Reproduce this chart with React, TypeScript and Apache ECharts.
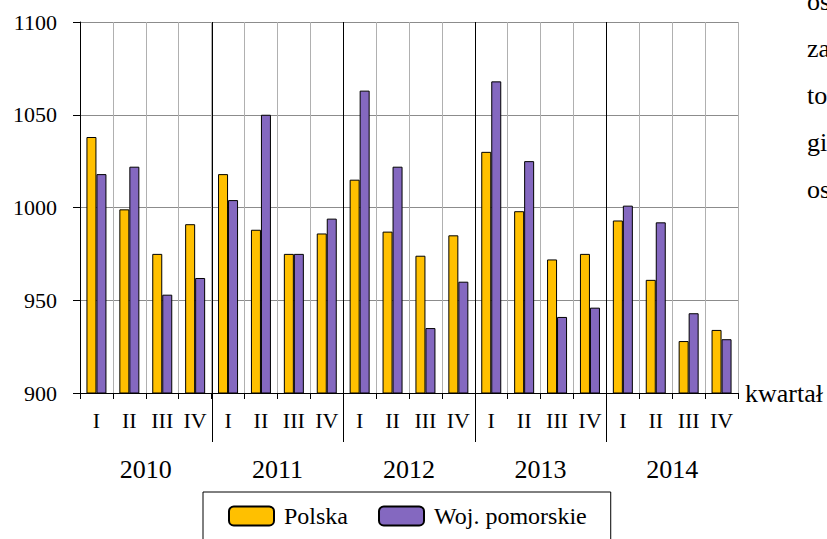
import React, { useEffect, useRef } from "react";
import * as echarts from "echarts";

const quarterLabels = ["I", "II", "III", "IV", "I", "II", "III", "IV", "I", "II", "III", "IV", "I", "II", "III", "IV", "I", "II", "III", "IV"];
const yearLabels = ["2010", "2011", "2012", "2013", "2014"];
const polskaValues = [1038, 999, 975, 991, 1018, 988, 975, 986, 1015, 987, 974, 985, 1030, 998, 972, 975, 993, 961, 928, 934];
const pomorskieValues = [1018, 1022, 953, 962, 1004, 1050, 975, 994, 1063, 1022, 935, 960, 1068, 1025, 941, 946, 1001, 992, 943, 929];
const yearBoundaries = [4, 8, 12, 16];
const seriesNames = ["Polska", "Woj. pomorskie"];
const sideTextLines = ["os", "za", "to", "gi", "os"];

const FONT = "Liberation Serif";

export default function App() {
  const ref = useRef<HTMLDivElement>(null);

  useEffect(() => {
    if (!ref.current) return;
    const chart = echarts.init(ref.current, undefined, { renderer: "svg" });
    const option: any = {
      animation: false,
      textStyle: { fontFamily: FONT, color: "#000" },
      grid: { left: 80, top: 22, right: 89, bottom: 146, containLabel: false },
      legend: {
        data: seriesNames,
        left: 203,
        top: 492,
        orient: "horizontal",
        itemWidth: 45,
        itemHeight: 19,
        itemGap: 30,
        borderColor: "#000",
        borderWidth: 1,
        padding: [12, 24, 12, 25],
        textStyle: { fontSize: 24, fontFamily: FONT, color: "#000", padding: [0, 0, 0, 5] },
      },
      xAxis: [
        {
          type: "category",
          data: quarterLabels,
          position: "bottom",
          axisLine: { show: true, lineStyle: { color: "#000", width: 1 } },
          axisTick: { show: true, length: 6, interval: 0, lineStyle: { color: "#000" } },
          axisLabel: { interval: 0, fontSize: 22, color: "#000", fontFamily: FONT, margin: 16 },
          splitLine: { show: true, interval: 0, lineStyle: { color: "#b0b0b0", width: 1 } },
          name: "kwartał",
          nameLocation: "end",
          nameGap: 7,
          nameTextStyle: {
            fontSize: 26,
            color: "#000",
            fontFamily: FONT,
            align: "left",
            verticalAlign: "middle",
            padding: [56, 0, 0, 0],
          },
        },
        {
          type: "category",
          data: yearLabels,
          position: "bottom",
          offset: 55,
          axisLine: { show: false },
          axisTick: { show: false },
          axisLabel: { interval: 0, fontSize: 26, color: "#000", fontFamily: FONT, margin: 8 },
          splitLine: { show: false },
        },
      ],
      yAxis: {
        type: "value",
        min: 900,
        max: 1100,
        interval: 50,
        axisLine: { show: true, lineStyle: { color: "#000", width: 1 } },
        axisTick: { show: true, length: 7, lineStyle: { color: "#000" } },
        axisLabel: {
          fontSize: 22,
          color: "#000",
          fontFamily: FONT,
          margin: 23,
          formatter: (v: number) => String(v),
        },
        splitLine: { show: true, lineStyle: { color: "#8c8c8c", width: 1 } },
      },
      series: [
        {
          name: seriesNames[0],
          type: "bar",
          data: polskaValues,
          barWidth: 10,
          barGap: "0%",
          itemStyle: { color: "#FFC000", borderColor: "#000", borderWidth: 1 },
        },
        {
          name: seriesNames[1],
          type: "bar",
          data: pomorskieValues,
          barWidth: 10,
          barGap: "0%",
          itemStyle: { color: "#8468C0", borderColor: "#000", borderWidth: 1 },
        },
        {
          type: "custom",
          silent: true,
          clip: false,
          z: 10,
          data: yearBoundaries.map((b) => [b, 1100]),
          encode: { x: 0, y: 1 },
          renderItem: (params: any, api: any) => {
            const idx = api.value(0);
            const top = api.coord([idx, 1100]);
            const bottom = api.coord([idx, 900]);
            const bw = api.size([1, 0])[0];
            const x = Math.round(top[0] - bw / 2) + 0.5;
            return {
              type: "line",
              shape: { x1: x, y1: top[1], x2: x, y2: bottom[1] + 49 },
              style: { stroke: "#000", lineWidth: 1 },
            };
          },
        },
      ],
      graphic: sideTextLines.map((t, i) => ({
        type: "text",
        left: 807,
        top: -12 + i * 47,
        style: { text: t, fontSize: 26, fontFamily: FONT, fill: "#000" },
      })),
    };
    chart.setOption(option);
    return () => chart.dispose();
  }, []);

  return (
    <div
      ref={ref}
      style={{ position: "absolute", left: 0, top: 0, width: 827, height: 539, background: "#fff" }}
    />
  );
}
